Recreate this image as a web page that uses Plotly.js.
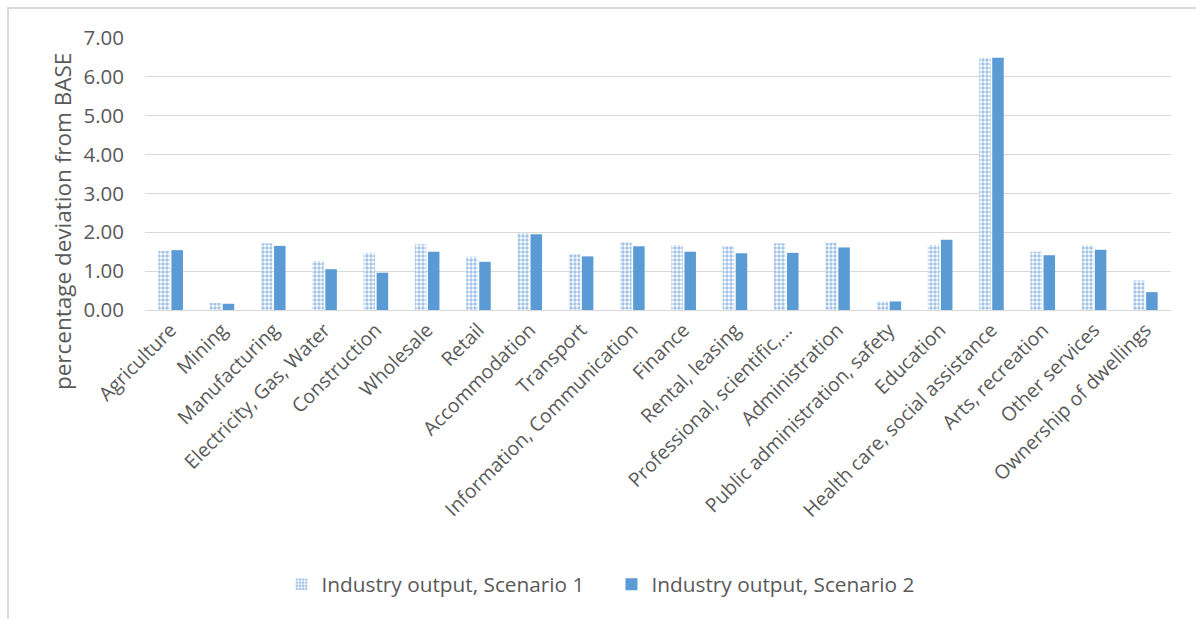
<!DOCTYPE html>
<html>
<head>
<meta charset="utf-8">
<script src="https://cdn.plot.ly/plotly-3.0.1.min.js"></script>
<style>
html,body{margin:0;padding:0;background:#fff;overflow:hidden;}
#frame{position:absolute;left:7px;top:7px;width:1400px;height:800px;border-left:2px solid #d9d9d9;border-top:2px solid #d9d9d9;}
#chart{position:absolute;left:0;top:0;width:1196px;height:619px;}
</style>
</head>
<body>
<div id="frame"></div>
<div id="chart"></div>
<script>
const categories = ["Agriculture","Mining","Manufacturing","Electricity, Gas, Water","Construction","Wholesale","Retail","Accommodation","Transport","Information, Communication","Finance","Rental, leasing","Professional, scientific,...","Administration","Public administration, safety","Education","Health care, social assistance","Arts, recreation","Other services","Ownership of dwellings"];
const scenario1 = [1.52,0.18,1.72,1.26,1.47,1.69,1.37,1.98,1.44,1.75,1.67,1.65,1.72,1.73,0.22,1.67,6.49,1.50,1.66,0.76];
const scenario2 = [1.54,0.16,1.65,1.05,0.96,1.50,1.24,1.95,1.38,1.64,1.50,1.46,1.47,1.61,0.22,1.81,6.49,1.41,1.55,0.46];
const seriesNames = ["Industry output, Scenario 1","Industry output, Scenario 2"];
const yTitle = "percentage deviation from BASE";
const blue = "#5b9bd5";
const font = "'Open Sans', 'Noto Sans', sans-serif";

const traces = [
  {type:"bar", x:categories, y:scenario1, name:seriesNames[0],
   marker:{color:"#ffffff", line:{width:0}, pattern:{shape:".", fgcolor:"#4a88cc", bgcolor:"#ffffff", size:4, solidity:0.6, fillmode:"overlay"}}},
  {type:"bar", x:categories, y:scenario2, name:seriesNames[1],
   marker:{color:blue, line:{width:0}}}
];

const layout = {
  width:1196, height:619,
  paper_bgcolor:"rgba(0,0,0,0)", plot_bgcolor:"rgba(0,0,0,0)",
  margin:{l:145, r:25, t:38, b:309, pad:0, autoexpand:false},
  barmode:"group", bargap:0.49, bargroupgap:0.12,
  font:{family:font, color:"#595959", size:16},
  xaxis:{type:"category", tickangle:-45, tickfont:{size:19.5, color:"#595959"}, showgrid:false, showline:true, linecolor:"#d9d9d9", linewidth:1, ticks:"", automargin:false},
  yaxis:{range:[0,7], dtick:1, tickformat:".2f", tickfont:{size:20.5, color:"#595959"}, gridcolor:"#d9d9d9", gridwidth:1, zeroline:false, showline:false, ticks:"", ticklabelstandoff:20, automargin:false},
  annotations:[{text:yTitle, textangle:-90, xref:"paper", yref:"paper", x:-0.0809, y:0.327, xanchor:"center", yanchor:"middle", showarrow:false, font:{size:22.5, color:"#595959"}}],
  showlegend:true,
  legend:{orientation:"h", x:0.133, xanchor:"left", y:-1.01, yanchor:"middle", font:{size:20.8, color:"#595959"}, itemwidth:30, entrywidth:285, traceorder:"normal"}
};

Plotly.newPlot("chart", traces, layout, {displayModeBar:false, staticPlot:true});
</script>
</body>
</html>
